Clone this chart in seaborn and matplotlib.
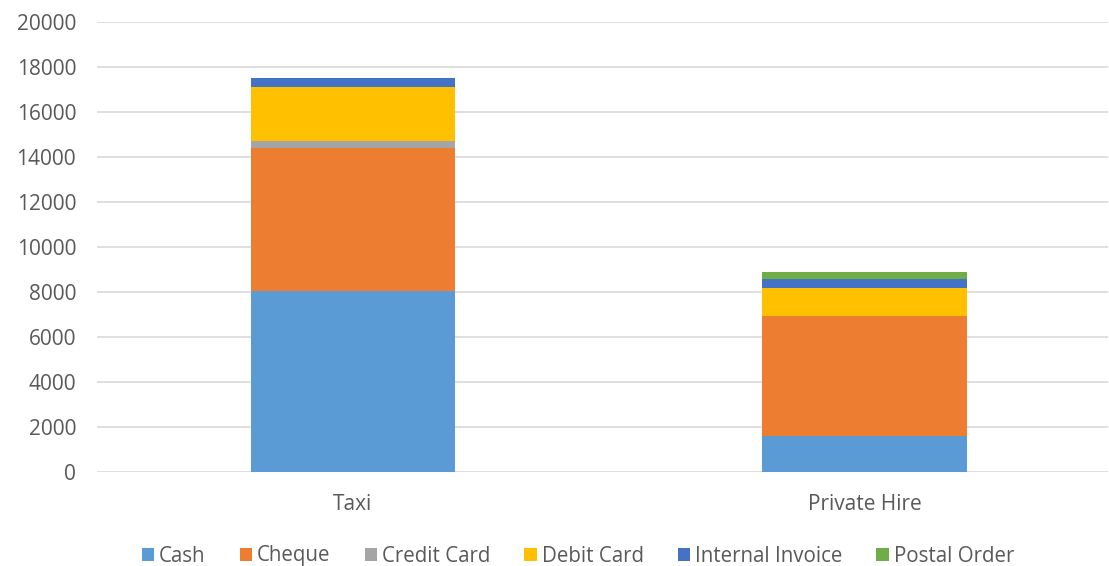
import numpy as np
import pandas as pd
import matplotlib
matplotlib.use("Agg")
import matplotlib.pyplot as plt
import seaborn as sns
from matplotlib.patches import Patch

categories = ["Taxi", "Private Hire"]
series_names = ["Cash", "Cheque", "Credit Card", "Debit Card", "Internal Invoice", "Postal Order"]
cash = [8030, 1600]
cheque = [6360, 5350]
credit_card = [300, 0]
debit_card = [2400, 1240]
internal_invoice = [400, 385]
postal_order = [0, 300]
colors = ["#5B9BD5", "#ED7D31", "#A5A5A5", "#FFC000", "#4472C4", "#70AD47"]
yticks = [0, 2000, 4000, 6000, 8000, 10000, 12000, 14000, 16000, 18000, 20000]

sns.set_theme(style="white")
plt.rcParams["font.family"] = ["Open Sans", "DejaVu Sans"]

W, H = 1109, 566
fig = plt.figure(figsize=(W / 100, H / 100), dpi=100)
ax = fig.add_axes([97 / W, 94 / H, (1108 - 97) / W, 450 / H])

values = [cash, cheque, credit_card, debit_card, internal_invoice, postal_order]
bottom = np.zeros(len(categories))
for name, vals, col in zip(series_names, values, colors):
    df = pd.DataFrame({"cat": categories, "val": vals})
    sns.barplot(data=df, x="cat", y="val", color=col, width=0.4, bottom=bottom,
                ax=ax, linewidth=0, saturation=1, errorbar=None)
    bottom = bottom + np.array(vals)

ax.set_ylim(0, 20000)
ax.set_xlim(-0.5, 1.5 - 12.5 / 512)
ax.set_yticks(yticks)
ax.set_yticklabels([str(t) for t in yticks])
ax.yaxis.grid(True, color="#D9D9D9", linewidth=1.2)
ax.set_axisbelow(True)
for s in ax.spines.values():
    s.set_visible(False)
ax.tick_params(axis="both", length=0, labelsize=15, colors="#595959")
ax.tick_params(axis="y", pad=15)
ax.tick_params(axis="x", pad=16)
ax.set_xlabel("")
ax.set_ylabel("")

handles = [Patch(facecolor=c, edgecolor="none", label=n) for n, c in zip(series_names, colors)]
fig.legend(handles=handles, loc="center", bbox_to_anchor=(578 / W, 1 - 556 / H), ncol=6,
           frameon=False, fontsize=14.8, labelcolor="#595959", handlelength=0.6,
           handleheight=0.6, handletextpad=0.25, columnspacing=1.65)

fig.savefig("out.png", dpi=100)
